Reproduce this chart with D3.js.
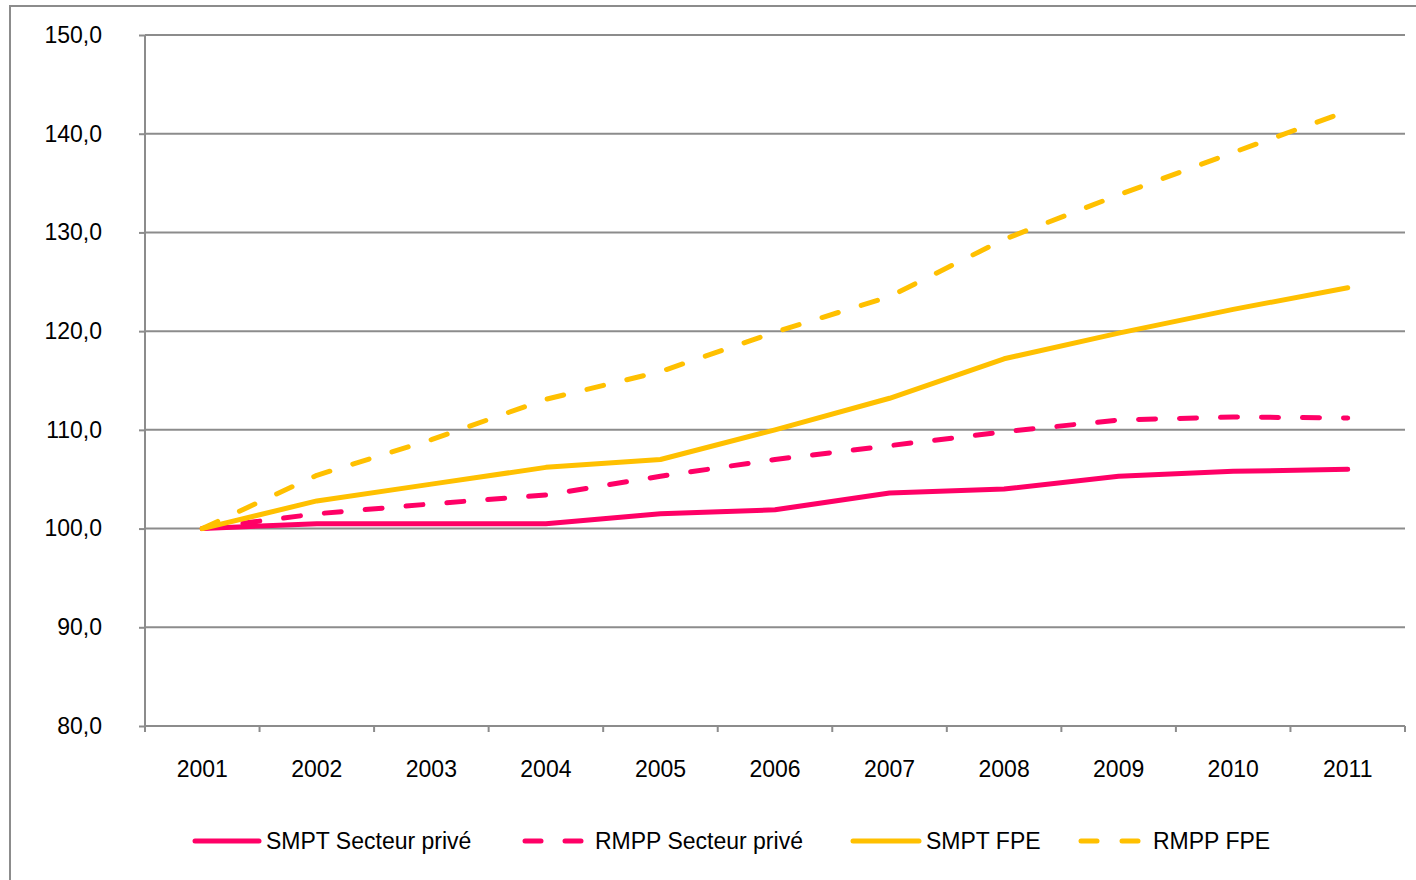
<!DOCTYPE html>
<html><head><meta charset="utf-8">
<script src="https://cdn.jsdelivr.net/npm/d3@7"></script>
<style>body{margin:0;background:#fff;}svg{display:block;}</style>
</head><body>
<svg id="c" width="1416" height="880"></svg>
<script>
const years = ["2001","2002","2003","2004","2005","2006","2007","2008","2009","2010","2011"];
const smptPrive = [100.0,100.5,100.5,100.5,101.5,101.9,103.6,104.0,105.3,105.8,106.0];
const rmppPrive = [100.0,101.5,102.5,103.4,105.3,107.0,108.4,109.8,111.0,111.3,111.2];
const smptFPE   = [100.0,102.8,104.5,106.2,107.0,110.0,113.2,117.2,119.8,122.2,124.4];
const rmppFPE   = [100.0,105.4,109.0,113.1,115.9,119.9,123.5,129.3,133.8,138.1,142.3];
const yTicks = [80,90,100,110,120,130,140,150];
const seriesNames = ["SMPT Secteur privé","RMPP Secteur privé","SMPT FPE","RMPP FPE"];

const PINK="#FF0066", GOLD="#FFC000", GRID="#8c8c8c";
const FONT="'Liberation Sans', Arial, sans-serif";
const FS=23;
const series = [
  {name:seriesNames[0], values:smptPrive, color:PINK, dash:null},
  {name:seriesNames[1], values:rmppPrive, color:PINK, dash:"17,24"},
  {name:seriesNames[2], values:smptFPE, color:GOLD, dash:null},
  {name:seriesNames[3], values:rmppFPE, color:GOLD, dash:"17,24"}
];

const svg = d3.select("#c");
svg.append("rect").attr("x",10).attr("y",6).attr("width",1420).attr("height",900)
  .attr("fill","none").attr("stroke",GRID).attr("stroke-width",2);

const L=145, R=1405, T=35, B=726;
const x = d3.scaleBand().domain(years).range([L,R]).padding(0);
const y = d3.scaleLinear().domain([80,150]).range([B,T]);

svg.append("g").selectAll("line").data(yTicks.filter(d=>d>80)).join("line")
  .attr("x1",L).attr("x2",R).attr("y1",d=>y(d)).attr("y2",d=>y(d))
  .attr("stroke",GRID).attr("stroke-width",2);

const yAx = svg.append("g").attr("transform",`translate(${L},0)`)
  .call(d3.axisLeft(y).tickValues(yTicks).tickSize(6).tickPadding(37)
    .tickFormat(d=>d3.format(".1f")(d).replace(".",",")));
yAx.select(".domain").attr("stroke",GRID).attr("stroke-width",2).attr("d",`M0,${T}V${B}`);
yAx.selectAll(".tick line").attr("stroke",GRID).attr("stroke-width",2);
yAx.selectAll("text").attr("font-family",FONT).attr("font-size",FS).attr("fill","#000");

const xAx = svg.append("g").attr("transform",`translate(0,${B})`)
  .call(d3.axisBottom(x).tickSize(0).tickPadding(35));
xAx.select(".domain").attr("stroke",GRID).attr("stroke-width",2).attr("d",`M${L},0H${R}`);
xAx.selectAll("text").attr("font-family",FONT).attr("font-size",FS).attr("fill","#000");
const bounds = years.map(d=>x(d)).concat([x(years[years.length-1])+x.bandwidth()]);
svg.append("g").selectAll("line").data(bounds).join("line")
  .attr("x1",d=>d).attr("x2",d=>d).attr("y1",B).attr("y2",B+6)
  .attr("stroke",GRID).attr("stroke-width",2);

const line = d3.line().x((d,i)=>x(years[i])+x.bandwidth()/2).y(d=>y(d));
series.forEach(s=>{
  svg.append("path").datum(s.values).attr("d",line)
    .attr("fill","none").attr("stroke",s.color).attr("stroke-width",5)
    .attr("stroke-linecap","round").attr("stroke-linejoin","round")
    .attr("stroke-dasharray",s.dash);
});

const legY = 841;
const legPos = [{x1:193,x2:261,tx:266},{x1:523,x2:583,tx:595},{x1:851,x2:921,tx:926},{x1:1079,x2:1140,tx:1153}];
series.forEach((s,i)=>{
  const p = legPos[i];
  if(s.dash){
    [[p.x1,p.x1+20],[p.x2-20,p.x2]].forEach(([a,b])=>{
      svg.append("line").attr("x1",a+2).attr("x2",b-2).attr("y1",legY).attr("y2",legY)
        .attr("stroke",s.color).attr("stroke-width",5).attr("stroke-linecap","round");
    });
  } else {
    svg.append("line").attr("x1",p.x1+2).attr("x2",p.x2-2).attr("y1",legY).attr("y2",legY)
      .attr("stroke",s.color).attr("stroke-width",5).attr("stroke-linecap","round");
  }
  svg.append("text").attr("x",p.tx).attr("y",legY).attr("dy","0.35em")
    .attr("font-family",FONT).attr("font-size",FS).attr("fill","#000").text(s.name);
});
</script>
</body></html>
